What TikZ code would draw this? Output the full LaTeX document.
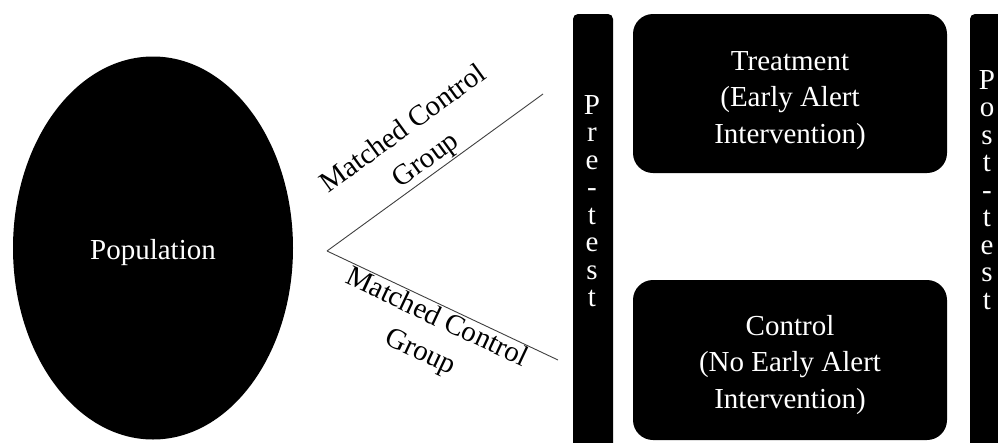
\documentclass[tikz,border=0pt]{standalone}
\usepackage{fontspec}
\setmainfont{Liberation Serif}
\usetikzlibrary{shapes.geometric}
\begin{document}
\begin{tikzpicture}[x=1pt,y=-1pt,
  blk/.style={fill=black,draw=none,inner sep=0pt},
  wtxt/.style={text=white,inner sep=0pt,align=center,font=\fontsize{29}{36.5}\selectfont},
  bar/.style={fill=black,draw=none,rounded corners=5pt,inner sep=0pt,minimum width=40pt},
  vtxt/.style={text=white,inner sep=0pt,align=center,font=\fontsize{29}{27.5}\selectfont},
  conn/.style={draw=black!75,line width=0.9pt},
  lbl/.style={inner sep=1pt,align=center,sloped,font=\fontsize{29}{38}\selectfont}]
\useasboundingbox (0,0) rectangle (998,442);
\node[blk,ellipse,minimum width=280pt,minimum height=383pt] (pop) at (153,248) {};
\node[wtxt] (poptext) at (153,253) {Population};
\node[bar,minimum height=440pt] (prebar) at (593,234) {};
\node[vtxt] (pretext) at (592,201) {P\\r\\e\\-\\t\\e\\s\\t};
\node[blk,rounded corners=20pt,minimum width=314pt,minimum height=159pt] (treat) at (790,93.5) {};
\node[wtxt] (treattext) at (790,100.5) {Treatment\\(Early Alert\\Intervention)};
\node[blk,rounded corners=20pt,minimum width=314pt,minimum height=160pt] (ctrl) at (790,360) {};
\node[wtxt] (ctrltext) at (790,365) {Control\\(No Early Alert\\Intervention)};
\node[bar,minimum height=440pt] (postbar) at (990,234) {};
\node[vtxt] (posttext) at (987,190) {P\\o\\s\\t\\-\\t\\e\\s\\t};
\coordinate (v) at (327,251);
\coordinate (a) at (543,94);
\coordinate (b) at (558,360);
\draw[conn] (v) -- (a) node[lbl,midway,anchor=south] {Matched Control\\Group};
\draw[conn] (v) -- (b) node[lbl,midway,anchor=north] {Matched Control\\Group};
\end{tikzpicture}
\end{document}
